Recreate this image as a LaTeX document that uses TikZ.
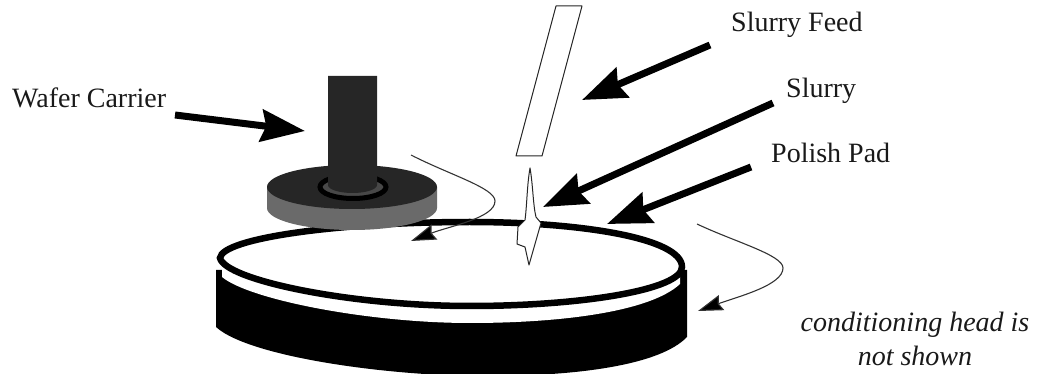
\documentclass[tikz,border=0pt]{standalone}
\usepackage{fontspec}
\setmainfont{Liberation Serif}
\usetikzlibrary{arrows.meta}
\definecolor{shaftgray}{HTML}{262626}
\definecolor{diskgray}{HTML}{6A6A6A}
\definecolor{rimgray}{HTML}{484848}
\tikzset{
  lbl/.style={font=\fontsize{28}{34}\selectfont, text=black!90, inner sep=0pt},
  note/.style={font=\fontsize{28}{34}\selectfont\itshape, text=black!90, inner sep=0pt, align=center},
  callout/.style={black, line width=7pt, line cap=butt, -{Stealth[length=44pt,width=32pt,inset=5pt]}},
  spin/.style={black!80, line width=1.1pt, -{Stealth[length=25pt,width=16pt,inset=3pt,fill=black]}},
  thinline/.style={black!85, line width=1pt, line join=round},
  rim/.style={black, line width=6.5pt},
}
\begin{document}
\begin{tikzpicture}[x=1pt, y=-1pt]
\useasboundingbox (0,0) rectangle (1037,374);

% ------------------------------------------------------------------ platen
\fill[black] (216,270) -- (216,327) .. controls (250,358) and (400,378) .. (500,376)
  .. controls (580,375) and (660,365) .. (687,337) -- (687,270) -- cycle;
\fill[white] (222,277) .. controls (250,300) and (370,323) .. (470,323)
  .. controls (560,323) and (650,312) .. (680,284) -- (680,262) -- (222,262) -- cycle;
\draw[rim, fill=white] (220,258) .. controls (222,238) and (340,222) .. (470,222)
  .. controls (580,222) and (682,238) .. (682,267)
  .. controls (682,290) and (580,306) .. (470,306)
  .. controls (350,306) and (225,280) .. (220,258) -- cycle;

% ------------------------------------------------------------------ carrier
\fill[diskgray] (267,187) -- (267,208) arc[start angle=180, end angle=0, x radius=85, y radius=22]
  -- (437,187) -- cycle;
\fill[shaftgray] (352,187) ellipse [x radius=85, y radius=22];
\draw[black, line width=5pt, fill=rimgray] (353,187) ellipse [x radius=33, y radius=11.5];
\fill[shaftgray] (328,76) -- (377,76) -- (377,185) arc[start angle=0, end angle=180, x radius=24.5, y radius=8] -- cycle;

% ------------------------------------------------------------------ feed and slurry
\draw[thinline, fill=white] (556,6) -- (582,6) -- (542,156) -- (516,156) -- cycle;
\draw[thinline, fill=white] (530,168) .. controls (533,185) and (533,205) .. (536,217)
  -- (541,223) -- (529,265) -- (525,247) -- (517,244) -- (518,227) -- (525,220)
  .. controls (527,205) and (527,185) .. (530,168) -- cycle;

% ------------------------------------------------------------------ labels
\node[lbl, anchor=base west] (carrier) at (12,108) {Wafer Carrier};
\node[lbl, anchor=base west] (feed) at (731,32) {Slurry Feed};
\node[lbl, anchor=base west] (slurry) at (786,98) {Slurry};
\node[lbl, anchor=base west] (pad) at (771,163) {Polish Pad};
\node[note] (head) at (915,339) {conditioning head is\\not shown};

% ------------------------------------------------------------------ callouts
\coordinate (carriertail) at (175,115);
\coordinate (carriertip) at (305,131);
\coordinate (feedtail) at (710,45);
\coordinate (feedtip) at (582,100);
\coordinate (slurrytail) at (773,103);
\coordinate (slurrytip) at (543,207);
\coordinate (padtail) at (751,167);
\coordinate (padtip) at (607,224);
\draw[callout] (carriertail) -- (carriertip);
\draw[callout] (feedtail) -- (feedtip);
\draw[callout] (slurrytail) -- (slurrytip);
\draw[callout] (padtail) -- (padtip);

% rotation, once for each
\coordinate (spinastart) at (411,155);
\coordinate (spinaend) at (411,241);
\coordinate (spinbstart) at (697,224);
\coordinate (spinbend) at (698,311);
\draw[spin] (spinastart) .. controls (450,175) and (495,188) .. (495,201)
  .. controls (495,218) and (450,226) .. (spinaend);
\draw[spin] (spinbstart) .. controls (735,242) and (783,255) .. (783,268)
  .. controls (783,285) and (740,296) .. (spinbend);
\end{tikzpicture}
\end{document}
